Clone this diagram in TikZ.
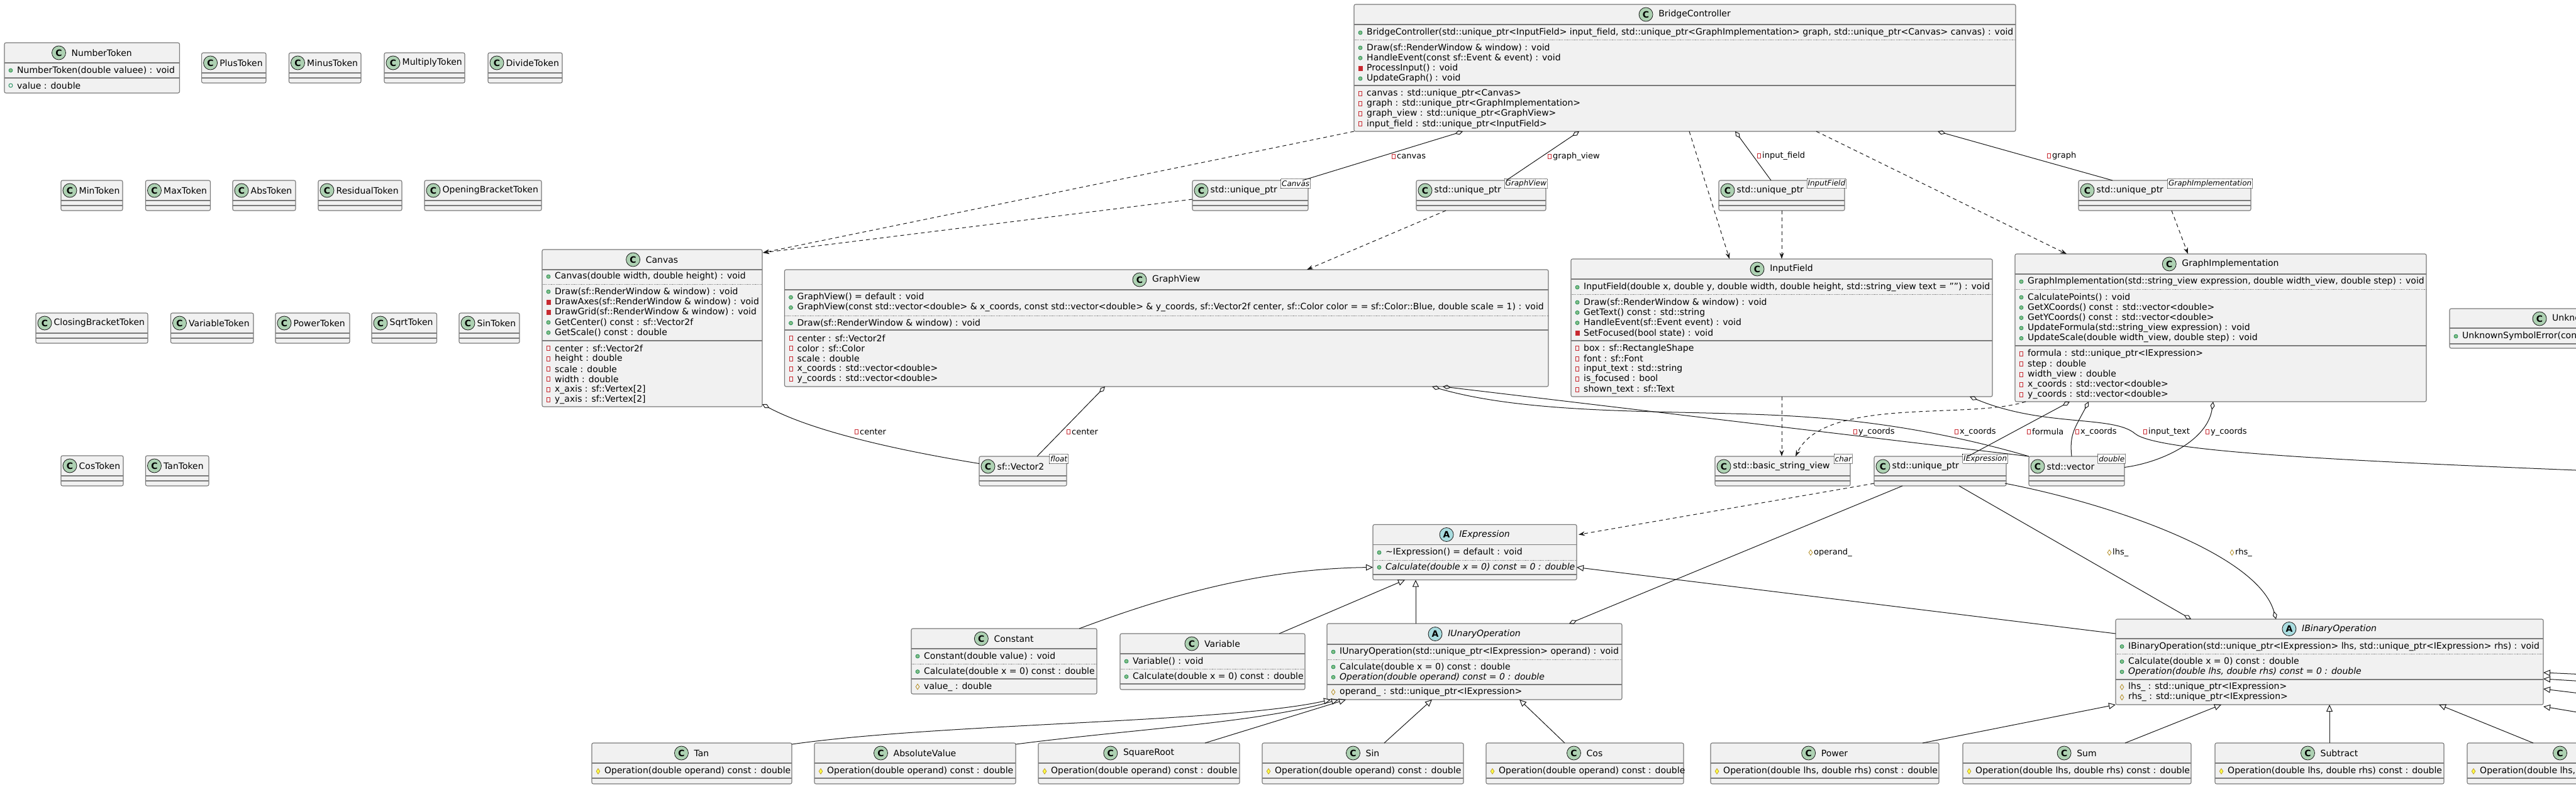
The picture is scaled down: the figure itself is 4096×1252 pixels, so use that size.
\documentclass[tikz,border=0pt]{standalone}
\usepackage{fontspec}
\setmainfont{DejaVu Sans}
\usetikzlibrary{arrows.meta,calc,shapes.geometric}
\definecolor{boxfill}{HTML}{F1F1F1}
\definecolor{boxline}{HTML}{7A7A7A}
\definecolor{edgec}{HTML}{181818}
\definecolor{spotc}{HTML}{ADD1B2}
\definecolor{spota}{HTML}{A9DCDF}
\definecolor{pubfill}{HTML}{84BE84}
\definecolor{publine}{HTML}{038048}
\definecolor{privc}{HTML}{C82930}
\definecolor{protline}{HTML}{B38D22}
\definecolor{protfill}{HTML}{FFFF44}
\tikzset{
  clsbox/.style={draw=boxline, fill=boxfill, line width=1.1pt, rounded corners=2.5pt, inner sep=0pt, outer sep=0pt},
  sepline/.style={draw=boxline, line width=1.1pt},
  dotsep/.style={draw=boxline, line width=0.9pt, dash pattern=on 1.2pt off 1.2pt},
  memtxt/.style={anchor=west, inner sep=0pt, font=\fontsize{14}{16}\selectfont},
  ttltxt/.style={inner sep=0pt, font=\fontsize{14}{16}\selectfont},
  spotC/.style={circle, fill=spotc, draw=edgec, line width=0.8pt, minimum size=22pt, inner sep=0pt, font=\fontsize{14}{14}\selectfont\bfseries},
  spotA/.style={spotC, fill=spota},
  icpm/.style={circle, fill=pubfill, draw=publine, line width=0.6pt, minimum size=6pt, inner sep=0pt},
  icpf/.style={circle, draw=publine, line width=0.8pt, minimum size=6pt, inner sep=0pt},
  icvm/.style={rectangle, fill=privc, draw=privc, minimum width=5.5pt, minimum height=7pt, inner sep=0pt},
  icvf/.style={rectangle, draw=privc, line width=0.8pt, minimum width=5pt, minimum height=7pt, inner sep=0pt},
  ictf/.style={diamond, draw=protline, line width=0.8pt, minimum width=6pt, minimum height=9pt, inner sep=0pt},
  ictm/.style={diamond, fill=protfill, draw=protline, line width=0.6pt, minimum width=6pt, minimum height=9pt, inner sep=0pt},
  tmpl/.style={draw=edgec, fill=white, dash pattern=on 1pt off 1pt, line width=0.7pt, inner xsep=1.5pt, inner ysep=0pt, minimum height=15pt, anchor=north east, font=\fontsize{12}{12}\selectfont\itshape},
  edge/.style={draw=edgec, line width=1pt},
  agg/.style={edge, {Diamond[open, length=13pt, width=7pt, line width=1pt]}-},
  inh/.style={edge, -{Triangle[open, length=11pt, width=10pt, line width=1pt]}},
  dep/.style={edge, dash pattern=on 6pt off 5pt, -{Stealth[length=10pt, width=7pt]}},
  lbltxt/.style={anchor=west, inner sep=0pt, font=\fontsize{13}{13}\selectfont},
}
% helpers
\newcommand\hs[3]{\draw[sepline] (#1,#3) -- (#2,#3);}
\newcommand\hd[3]{\draw[dotsep] (#1,#3) -- (#2,#3);}
\newcommand\cls[5]{\node[clsbox, minimum width=#4pt, minimum height=#5pt, anchor=north west] (#1) at (#2,#3) {};}
\newcommand\mem[5]{\node[ic#4] (#1i) at (#2+10,#3) {};\node[memtxt] (#1) at (#2+20,#3) {#5};}
\newcommand\ttlc[6]{\node[ttltxt] (#1t) at (#2+15.5,#3) {#4};\node[#5] (#1s) at ($(#1t.west)+(-20,0)$) {#6};}
\newcommand\ttlw[6]{\node[ttltxt, anchor=west] (#1t) at (#2+28.5,#3) {#4};\node[#5] (#1s) at (#2+14,#3) {#6};}
\newcommand\scls[5]{\node[clsbox, minimum width=#4pt, minimum height=48pt, anchor=north west] (#1) at (#2,#3) {};
  \hs{#2}{#2+#4}{#3+32}\hs{#2}{#2+#4}{#3+40}\ttlw{#1}{#2}{#3+16}{#5}{spotC}{C}}
\newcommand\opcls[5]{\node[clsbox, minimum width=#3pt, minimum height=65pt, anchor=north west] (#1) at (#2,1182) {};
  \hs{#2}{#2+#3}{1214}\hs{#2}{#2+#3}{1238}\ttlc{#1}{#2+#3/2}{1198}{#4}{spotC}{C}\mem{#1m}{#2}{1227}{tm}{#5}}
\newcommand\elbl[5]{\node[ic#4] (#1i) at (#2,#3) {};\node[lbltxt] (#1) at (#2+5,#3) {#5};}
\begin{document}
\begin{tikzpicture}[x=1pt,y=-1pt]
\useasboundingbox (0,0) rectangle (4096,1252);
\clip (0,0) rectangle (4096,1252);
\fill[white] (0,0) rectangle (4096,1252);

% ---------- tokens ----------
\cls{tokNum}{7}{68}{278.5}{80}
\hs{7}{285.5}{100}\hs{7}{285.5}{124}
\ttlc{tokNum}{146.25}{84}{NumberToken}{spotC}{C}
\mem{tokNumA}{7}{112}{pm}{NumberToken(double valuee) : void}
\mem{tokNumB}{7}{136}{pf}{value : double}
\scls{tokPlus}{320.6}{84}{102.4}{PlusToken}
\scls{tokMinus}{459.5}{84}{114.5}{MinusToken}
\scls{tokMul}{611}{84}{128}{MultiplyToken}
\scls{tokDiv}{776}{84}{118}{DivideToken}
\scls{tokMin}{97}{287}{98}{MinToken}
\scls{tokMax}{231.5}{287}{103}{MaxToken}
\scls{tokAbs}{370}{287}{100}{AbsToken}
\scls{tokRes}{506}{287}{133}{ResidualToken}
\scls{tokOpen}{675}{287}{186}{OpeningBracketToken}
\scls{tokClose}{57}{498}{178}{ClosingBracketToken}
\scls{tokVar}{271.5}{498}{131.5}{VariableToken}
\scls{tokPow}{438}{498}{118}{PowerToken}
\scls{tokSqrt}{591}{498}{103.5}{SqrtToken}
\scls{tokSin}{730}{498}{96}{SinToken}
\scls{tokCos}{97}{725}{99}{CosToken}
\scls{tokTan}{231.5}{725}{100.5}{TanToken}

% ---------- BridgeController ----------
\cls{bc}{2153}{7}{1052}{202}
\ttlc{bc}{2679}{23}{BridgeController}{spotC}{C}
\hs{2153}{3205}{39}
\mem{bcA}{2153}{52}{pm}{BridgeController(std::unique\_ptr<InputField> input\_field, std::unique\_ptr<GraphImplementation> graph, std::unique\_ptr<Canvas> canvas) : void}
\hd{2153}{3205}{63}
\mem{bcB}{2153}{76}{pm}{Draw(sf::RenderWindow \& window) : void}
\mem{bcC}{2153}{92.3}{pm}{HandleEvent(const sf::Event \& event) : void}
\mem{bcD}{2153}{108.6}{vm}{ProcessInput() : void}
\mem{bcE}{2153}{125}{pm}{UpdateGraph() : void}
\hs{2153}{3205}{136}
\mem{bcF}{2153}{148.5}{vf}{canvas : std::unique\_ptr<Canvas>}
\mem{bcG}{2153}{164.8}{vf}{graph : std::unique\_ptr<GraphImplementation>}
\mem{bcH}{2153}{181.1}{vf}{graph\_view : std::unique\_ptr<GraphView>}
\mem{bcI}{2153}{197.4}{vf}{input\_field : std::unique\_ptr<InputField>}

% ---------- unique_ptr wrappers ----------
\scls{upCanvas}{1896}{287}{184}{std::unique\_ptr}
\node[tmpl] (upCanvasP) at (2084,284) {Canvas};
\scls{upGView}{2252}{287}{206}{std::unique\_ptr}
\node[tmpl] (upGViewP) at (2461,284) {GraphView};
\scls{upIField}{2733}{287}{200}{std::unique\_ptr}
\node[tmpl] (upIFieldP) at (2936,284) {InputField};
\scls{upGImpl}{3305}{287}{274}{std::unique\_ptr}
\node[tmpl] (upGImplP) at (3582,284) {GraphImplementation};

% ---------- Canvas ----------
\cls{canvas}{862}{397}{350}{250}
\ttlc{canvas}{1037}{413}{Canvas}{spotC}{C}
\hs{862}{1212}{429}
\mem{cvA}{862}{440}{pm}{Canvas(double width, double height) : void}
\hd{862}{1212}{452}
\mem{cvB}{862}{464}{pm}{Draw(sf::RenderWindow \& window) : void}
\mem{cvC}{862}{480.3}{vm}{DrawAxes(sf::RenderWindow \& window) : void}
\mem{cvD}{862}{496.6}{vm}{DrawGrid(sf::RenderWindow \& window) : void}
\mem{cvE}{862}{512.9}{pm}{GetCenter() const : sf::Vector2f}
\mem{cvF}{862}{529.2}{pm}{GetScale() const : double}
\hs{862}{1212}{542}
\mem{cvG}{862}{554.3}{vf}{center : sf::Vector2f}
\mem{cvH}{862}{570.6}{vf}{height : double}
\mem{cvI}{862}{586.9}{vf}{scale : double}
\mem{cvJ}{862}{603.2}{vf}{width : double}
\mem{cvK}{862}{619.5}{vf}{x\_axis : sf::Vertex[2]}
\mem{cvL}{862}{635.8}{vf}{y\_axis : sf::Vertex[2]}

% ---------- GraphView ----------
\cls{gview}{1247.5}{429}{1214.5}{186}
\ttlc{gview}{1854.75}{445}{GraphView}{spotC}{C}
\hs{1247.5}{2462}{461}
\mem{gvA}{1247.5}{473}{pm}{GraphView() = default : void}
\mem{gvB}{1247.5}{489.3}{pm}{GraphView(const std::vector<double> \& x\_coords, const std::vector<double> \& y\_coords, sf::Vector2f center, sf::Color color = = sf::Color::Blue, double scale = 1) : void}
\hd{1247.5}{2462}{502}
\mem{gvC}{1247.5}{514}{pm}{Draw(sf::RenderWindow \& window) : void}
\hs{1247.5}{2462}{525}
\mem{gvD}{1247.5}{538}{vf}{center : sf::Vector2f}
\mem{gvE}{1247.5}{554.3}{vf}{color : sf::Color}
\mem{gvF}{1247.5}{570.6}{vf}{scale : double}
\mem{gvG}{1247.5}{586.9}{vf}{x\_coords : std::vector<double>}
\mem{gvH}{1247.5}{603.2}{vf}{y\_coords : std::vector<double>}

% ---------- InputField ----------
\cls{ifield}{2498}{412}{670}{219}
\ttlc{ifield}{2833}{428}{InputField}{spotC}{C}
\hs{2498}{3168}{444}
\mem{ifA}{2498}{457}{pm}{InputField(double x, double y, double width, double height, std::string\_view text = "") : void}
\hd{2498}{3168}{468}
\mem{ifB}{2498}{481}{pm}{Draw(sf::RenderWindow \& window) : void}
\mem{ifC}{2498}{497.3}{pm}{GetText() const : std::string}
\mem{ifD}{2498}{513.6}{pm}{HandleEvent(sf::Event event) : void}
\mem{ifE}{2498}{529.9}{vm}{SetFocused(bool state) : void}
\hs{2498}{3168}{542}
\mem{ifF}{2498}{554.3}{vf}{box : sf::RectangleShape}
\mem{ifG}{2498}{570.6}{vf}{font : sf::Font}
\mem{ifH}{2498}{586.9}{vf}{input\_text : std::string}
\mem{ifI}{2498}{603.2}{vf}{is\_focused : bool}
\mem{ifJ}{2498}{619.5}{vf}{shown\_text : sf::Text}

% ---------- GraphImplementation ----------
\cls{gimpl}{3204}{404}{654}{235}
\ttlc{gimpl}{3531}{420}{GraphImplementation}{spotC}{C}
\hs{3204}{3858}{436}
\mem{giA}{3204}{448}{pm}{GraphImplementation(std::string\_view expression, double width\_view, double step) : void}
\hd{3204}{3858}{460}
\mem{giB}{3204}{473}{pm}{CalculatePoints() : void}
\mem{giC}{3204}{489.3}{pm}{GetXCoords() const : std::vector<double>}
\mem{giD}{3204}{505.6}{pm}{GetYCoords() const : std::vector<double>}
\mem{giE}{3204}{521.9}{pm}{UpdateFormula(std::string\_view expression) : void}
\mem{giF}{3204}{538.2}{pm}{UpdateScale(double width\_view, double step) : void}
\hs{3204}{3858}{550}
\mem{giG}{3204}{563}{vf}{formula : std::unique\_ptr<IExpression>}
\mem{giH}{3204}{579.3}{vf}{step : double}
\mem{giI}{3204}{595.6}{vf}{width\_view : double}
\mem{giJ}{3204}{611.9}{vf}{x\_coords : std::vector<double>}
\mem{giK}{3204}{628.2}{vf}{y\_coords : std::vector<double>}

% ---------- UnknownSymbolError (cut by the edge) ----------
\cls{unk}{3895}{491}{420}{63}
\node[ttltxt, anchor=west] (unkt) at (4058,507) {UnknownSymbolError};
\node[spotC] (unks) at (4038,507) {C};
\hs{3895}{4315}{522}
\mem{unkA}{3895}{535}{pm}{UnknownSymbolError(const std::string \& symbol) : void}
\hs{3895}{4315}{547}

% ---------- small helper classes ----------
\node[clsbox, minimum width=139pt, minimum height=47pt, anchor=north west] (vec2) at (1557,726) {};
\hs{1557}{1696}{757}\hs{1557}{1696}{765}
\ttlw{vec2}{1557}{742}{sf::Vector2}{spotC}{C}
\node[tmpl] (vec2P) at (1699,722) {float};

\node[clsbox, minimum width=215pt, minimum height=47pt, anchor=north west] (strview) at (2727,726) {};
\hs{2727}{2942}{757}\hs{2727}{2942}{765}
\ttlw{strview}{2727}{742}{std::basic\_string\_view}{spotC}{C}
\node[tmpl] (strviewP) at (2946,722) {char};

\node[clsbox, minimum width=210pt, minimum height=47pt, anchor=north west] (upExpr) at (2980,726) {};
\hs{2980}{3190}{757}\hs{2980}{3190}{765}
\ttlw{upExpr}{2980}{742}{std::unique\_ptr}{spotC}{C}
\node[tmpl] (upExprP) at (3193,722) {IExpression};

\node[clsbox, minimum width=152pt, minimum height=47pt, anchor=north west] (vecd) at (3226,726) {};
\hs{3226}{3378}{757}\hs{3226}{3378}{765}
\ttlw{vecd}{3226}{742}{std::vector}{spotC}{C}
\node[tmpl] (vecdP) at (3380,722) {double};

% ---------- expression hierarchy ----------
\cls{iexpr}{2183}{834.5}{324}{88}
\ttlc{iexpr}{2345}{850.5}{\itshape IExpression}{spotA}{A}
\hs{2183}{2507}{866.5}
\mem{ieA}{2183}{879}{pm}{\textasciitilde IExpression() = default : void}
\hd{2183}{2507}{891}
\mem{ieB}{2183}{902.5}{pm}{\itshape Calculate(double x = 0) const = 0 : double}
\hs{2183}{2507}{914}

\cls{iunary}{2110}{992}{469}{121}
\ttlc{iunary}{2344.5}{1008.5}{\itshape IUnaryOperation}{spotA}{A}
\hs{2110}{2579}{1025}
\mem{iuA}{2110}{1037}{pm}{IUnaryOperation(std::unique\_ptr<IExpression> operand) : void}
\hd{2110}{2579}{1049}
\mem{iuB}{2110}{1061}{pm}{Calculate(double x = 0) const : double}
\mem{iuC}{2110}{1077.3}{pm}{\itshape Operation(double operand) const = 0 : double}
\hs{2110}{2579}{1089}
\mem{iuD}{2110}{1101}{tf}{operand\_ : std::unique\_ptr<IExpression>}

\cls{constant}{1449}{1000}{295}{104}
\ttlc{constant}{1596.5}{1016}{Constant}{spotC}{C}
\hs{1449}{1744}{1032}
\mem{coA}{1449}{1044}{pm}{Constant(double value) : void}
\hd{1449}{1744}{1056}
\mem{coB}{1449}{1068.5}{pm}{Calculate(double x = 0) const : double}
\hs{1449}{1744}{1080}
\mem{coC}{1449}{1092.5}{tf}{value\_ : double}

\cls{variable}{1781}{1008}{294}{89}
\ttlc{variable}{1928}{1024}{Variable}{spotC}{C}
\hs{1781}{2075}{1040}
\mem{vaA}{1781}{1052}{pm}{Variable() : void}
\hd{1781}{2075}{1064}
\mem{vaB}{1781}{1076.5}{pm}{Calculate(double x = 0) const : double}
\hs{1781}{2075}{1088}

\cls{ibinary}{3364}{985}{680}{136}
\ttlc{ibinary}{3704}{1000.5}{\itshape IBinaryOperation}{spotA}{A}
\hs{3364}{4044}{1016}
\mem{ibA}{3364}{1028.5}{pm}{IBinaryOperation(std::unique\_ptr<IExpression> lhs, std::unique\_ptr<IExpression> rhs) : void}
\hd{3364}{4044}{1040.5}
\mem{ibB}{3364}{1052.5}{pm}{Calculate(double x = 0) const : double}
\mem{ibC}{3364}{1068.8}{pm}{\itshape Operation(double lhs, double rhs) const = 0 : double}
\hs{3364}{4044}{1081}
\mem{ibD}{3364}{1093}{tf}{lhs\_ : std::unique\_ptr<IExpression>}
\mem{ibE}{3364}{1109.3}{tf}{rhs\_ : std::unique\_ptr<IExpression>}

% ---------- bottom row ----------
\opcls{tan}{941}{318}{Tan}{Operation(double operand) const : double}
\opcls{absv}{1295}{320}{AbsoluteValue}{Operation(double operand) const : double}
\opcls{sqroot}{1651}{320}{SquareRoot}{Operation(double operand) const : double}
\opcls{sin}{2007}{320}{Sin}{Operation(double operand) const : double}
\opcls{cos}{2363}{314}{Cos}{Operation(double operand) const : double}
\opcls{power}{2720}{363}{Power}{Operation(double lhs, double rhs) const : double}
\opcls{sum}{3121}{363}{Sum}{Operation(double lhs, double rhs) const : double}
\opcls{subtract}{3522}{364}{Subtract}{Operation(double lhs, double rhs) const : double}
\node[clsbox, minimum width=364pt, minimum height=65pt, anchor=north west] (last) at (3923,1182) {};
\hs{3923}{4287}{1214}\hs{3923}{4287}{1238}
\node[spotC] (lasts) at (4070.5,1198) {C};
\mem{lastm}{3923}{1227}{tm}{Operation(double lhs, double rhs) const : double}

% ---------- connectors ----------
\draw[dep] (bc.south west) -- ($(canvas.north east)+(1,5)$);
\draw[agg] ($(bc.south west)+(173,0)$) -- ($(upCanvas.north east)+(-9,0)$);
\draw[agg] ($(bc.south west)+(358,0)$) -- ($(upGView.north west)+(143,0)$);
\draw[dep] ($(bc.south west)+(533,0)$) -- ($(ifield.north west)+(252,0)$);
\draw[agg] ($(bc.south west)+(606,0)$) -- ($(upIField.north west)+(83,0)$);
\draw[dep] ($(bc.south west)+(735,0)$) -- ($(gimpl.north west)+(82,0)$);
\draw[agg] ($(bc.south west)+(928,0)$) -- ($(upGImpl.north west)+(54,0)$);
\draw[dep] ($(upCanvas.west)+(0,6)$) -- ($(canvas.north east)+(1,5)$);
\draw[dep] ($(upGView.south west)+(47,0)$) -- ($(gview.north west)+(830.5,0)$);
\draw[dep] (upIField.south) -- (ifield.north);
\draw[dep] ($(upGImpl.south west)+(148,0)$) -- ($(gimpl.north west)+(275,0)$);

\draw[agg] ($(canvas.south east)+(0,-4)$) .. controls (1300,690) and (1450,720) .. ($(vec2.west)+(0,-12)$);
\draw[agg] ($(gview.south west)+(509.5,0)$) -- ($(vec2.north west)+(92,0)$);
\draw[agg] ($(gview.south west)+(1029.5,0)$) .. controls (2450,665) and (2700,650) .. (2880,664) .. controls (3000,672) and (3120,695) .. (vecd.north west);
\draw[agg] ($(gview.south west)+(1046.5,0)$) -- (vecd.north west);

\draw[dep] (ifield.south) -- ($(strview.north west)+(106,0)$);
\draw[dep] ($(gimpl.south west)+(17,0)$) .. controls (3130,668) and (2900,630) .. ($(strview.north west)+(128,0)$);
\coordinate (offIT) at (4120,749);
\draw[agg] ($(ifield.south east)+(-36,0)$) .. controls (3250,680) and (3360,660) .. (3395,690) .. controls (3430,718) and (3700,732) .. (offIT);

\draw[agg] ($(gimpl.south west)+(87,0)$) -- ($(upExpr.north east)+(-61,0)$);
\draw[agg] ($(gimpl.south west)+(117,0)$) .. controls (3300,680) and (3290,690) .. ($(vecd.north west)+(68,0)$);
\draw[agg] ($(gimpl.south west)+(315,0)$) .. controls (3510,700) and (3440,735) .. ($(vecd.east)+(0,-6)$);

\draw[dep] ($(upExpr.south west)+(0,-4)$) -- ($(iexpr.north east)+(3,16)$);
\draw[agg] ($(iunary.north west)+(385,0)$) -- ($(upExpr.south west)+(45,0)$);
\draw[agg] ($(ibinary.north west)+(120,0)$) -- ($(upExpr.south west)+(135,0)$);
\draw[agg] ($(ibinary.north west)+(255,0)$) .. controls (3590,880) and (3350,800) .. ($(upExpr.south east)+(-2,-4)$);

\draw[inh] ($(constant.north west)+(267,0)$) .. controls (1850,950) and (2000,905) .. ($(iexpr.west)+(0,24)$);
\draw[inh] ($(variable.north west)+(253,0)$) -- ($(iexpr.south west)+(51,0)$);
\draw[inh] ($(iunary.north west)+(141,0)$) -- ($(iexpr.south west)+(68,0)$);
\draw[inh] ($(ibinary.north west)+(0,23)$) -- ($(iexpr.east)+(0,24)$);

\draw[inh] ($(tan.north east)+(0,2)$) .. controls (1500,1150) and (1950,1150) .. ($(iunary.south west)+(6,0)$);
\draw[inh] ($(absv.north east)+(0,2)$) .. controls (1800,1160) and (2000,1150) .. ($(iunary.south west)+(18,0)$);
\draw[inh] ($(sqroot.north west)+(265,0)$) -- ($(iunary.south west)+(30,0)$);
\draw[inh] ($(sin.north west)+(194,0)$) -- ($(iunary.south west)+(167,0)$);
\draw[inh] ($(cos.north west)+(125,0)$) -- ($(iunary.south west)+(306,0)$);
\draw[inh] ($(power.north west)+(337,0)$) -- (ibinary.south west);
\draw[inh] ($(sum.north west)+(258,0)$) -- ($(ibinary.south west)+(168,0)$);
\draw[inh] (subtract.north) -- ($(ibinary.south west)+(340,0)$);
\draw[inh] ($(last.north west)+(105,0)$) -- ($(ibinary.south west)+(514,0)$);
\coordinate (offB1) at (4110,1073);
\coordinate (offB2) at (4110,1084);
\coordinate (offB3) at (4110,1104);
\coordinate (offB4) at (4110,1135);
\draw[inh] (offB1) -- ($(ibinary.north east)+(0,85)$);
\draw[inh] (offB2) -- ($(ibinary.north east)+(0,95)$);
\draw[inh] (offB3) -- ($(ibinary.north east)+(0,111)$);
\draw[inh] (offB4) -- ($(ibinary.north east)+(0,139)$);

% ---------- connector labels ----------
\elbl{lCanvas}{2216}{249}{vf}{canvas}
\elbl{lGView}{2464}{249}{vf}{graph\_view}
\elbl{lIField}{2797}{248}{vf}{input\_field}
\elbl{lGraph}{3258}{248}{vf}{graph}
\elbl{lCenterA}{1362}{687}{vf}{center}
\elbl{lCenterB}{1699}{687}{vf}{center}
\elbl{lYcA}{2950}{687}{vf}{y\_coords}
\elbl{lXcA}{3111}{687}{vf}{x\_coords}
\elbl{lFormula}{3226}{687}{vf}{formula}
\elbl{lXcB}{3303}{687}{vf}{x\_coords}
\elbl{lInText}{3411}{687}{vf}{input\_text}
\elbl{lYcB}{3510}{687}{vf}{y\_coords}
\elbl{lOperand}{2879}{879}{tf}{operand\_}
\elbl{lLhs}{3354}{879}{tf}{lhs\_}
\elbl{lRhs}{3549}{879}{tf}{rhs\_}
\end{tikzpicture}
\end{document}
